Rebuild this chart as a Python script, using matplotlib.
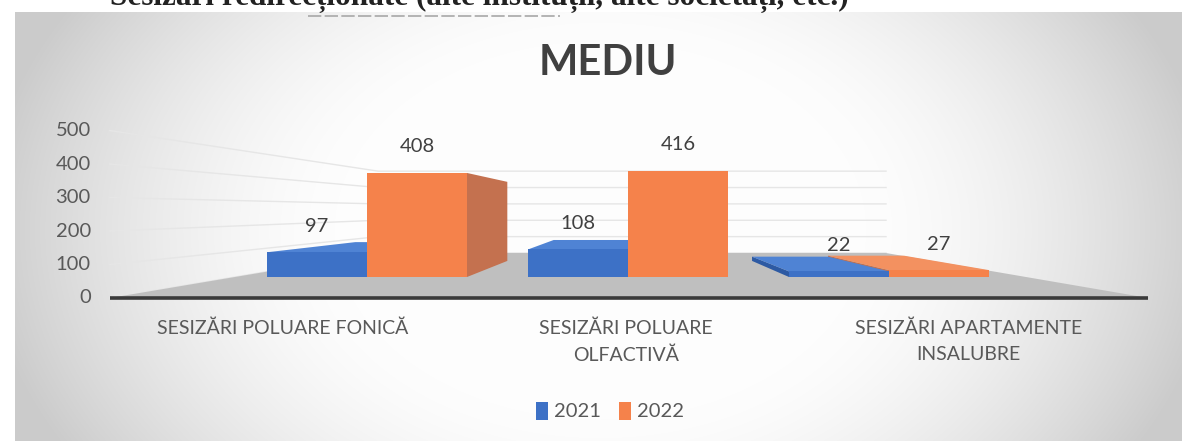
import numpy as np
import matplotlib
matplotlib.use("Agg")
import matplotlib.pyplot as plt
from matplotlib.patches import Polygon, Patch

plt.rcParams['font.family'] = ['Lato', 'DejaVu Sans']

# data
categories = ["SESIZĂRI POLUARE FONICĂ", "SESIZĂRI POLUARE\nOLFACTIVĂ",
              "SESIZĂRI APARTAMENTE\nINSALUBRE"]
series_names = ["2021", "2022"]
values_2021 = [97, 108, 22]
values_2022 = [408, 416, 27]
y_ticks = [0, 100, 200, 300, 400, 500]
title = "MEDIU"
header = "Sesizări redirecționate (alte instituții, alte societăți, etc.)"

W, H = 1182, 441
colors = {"2021": ("#3d71c6", "#4f83d4", "#2d5aa3"),   # front, top, side
          "2022": ("#f5824b", "#f39160", "#c4714f")}

# simple perspective: vanishing point, base line and scale at the bar front
VX, VY = 635.0, 210.0
Y0, K = 277.0, 0.255
S_BACK = 0.76              # bar back face
S_FLOOR_F, S_FLOOR_B = 1.313, 0.642
XL, XR = 235.0, 1026.0     # floor extent (front plane units)
GROUP0, GROUP_STEP, BAR_W = 367.0, 261.0, 100.0


def proj(x, v, s):
    return (VX + (x - VX) * s, VY + (Y0 - K * v - VY) * s)


fig = plt.figure(figsize=(W / 100, H / 100), dpi=100)
ax = fig.add_axes([0, 0, 1, 1])
ax.set_xlim(0, W)
ax.set_ylim(H, 0)
ax.axis('off')

# chart area background (light vignette)
gx, gy = np.meshgrid(np.arange(15, W), np.arange(12, H))
r = np.sqrt(((gx - 600) / 590.0) ** 2 + ((gy - 230) / 420.0) ** 2)
t = np.clip((r - 0.45) / 0.6, 0, 1) ** 1.5
bg = (253 - 50 * t) / 255.0
ax.imshow(np.dstack([bg, bg, bg]), extent=(15, W, H, 12), zorder=0,
          interpolation='bilinear', aspect='auto')

# header line of the document, cut by the top edge as in the scan
ax.text(62, 5, "•", fontsize=22.5, fontweight='bold', family='Liberation Serif',
        va='baseline', color='#222222', zorder=1)
ax.text(110, 5, header, fontsize=22.5, fontweight='bold', family='Liberation Serif',
        va='baseline', color='#222222', zorder=1)
ax.plot([308, 560], [16, 16], color='#a8a8a8', lw=1.2, ls=(0, (8, 2)), zorder=1)

ax.text(608, 63, title, fontsize=30, fontweight='bold', color='#404040',
        ha='center', va='center', zorder=5)

# walls gridlines and floor
for v in y_ticks:
    p1, p2, p3 = proj(XL, v, S_FLOOR_F), proj(XL, v, S_FLOOR_B), proj(XR, v, S_FLOOR_B)
    ax.plot([p1[0], p2[0], p3[0]], [p1[1], p2[1], p3[1]], color='#e6e6e6', lw=1, zorder=1)
    ax.text(p1[0] - 19, p1[1], str(v), ha='right', va='center', fontsize=14.5,
            color='#595959', zorder=5)

floor = [proj(XL, 0, S_FLOOR_F), proj(XR, 0, S_FLOOR_F),
         proj(XR, 0, S_FLOOR_B), proj(XL, 0, S_FLOOR_B)]
ax.add_patch(Polygon(floor, closed=True, fc='#bfbfbf', ec='none', zorder=2))
a0, a1 = proj(XL, 0, S_FLOOR_F), proj(XR, 0, S_FLOOR_F)
ax.plot([a0[0], a1[0]], [a0[1], a1[1]], color='#3a3a3a', lw=2.6,
        solid_capstyle='butt', zorder=3)

# bars
bars = []
for i in range(len(categories)):
    c = GROUP0 + GROUP_STEP * i
    bars.append((c - BAR_W, c, values_2021[i], "2021"))
    bars.append((c, c + BAR_W, values_2022[i], "2022"))
bars.sort(key=lambda b: -abs((b[0] + b[1]) / 2 - VX))

z = 10
for x0, x1, v, name in bars:
    front, top, side = colors[name]
    faces = []
    if x0 > VX:
        faces.append(([proj(x0, 0, 1), proj(x0, v, 1), proj(x0, v, S_BACK),
                       proj(x0, 0, S_BACK)], side))
    if x1 < VX:
        faces.append(([proj(x1, 0, 1), proj(x1, v, 1), proj(x1, v, S_BACK),
                       proj(x1, 0, S_BACK)], side))
    if Y0 - K * v > VY:
        faces.append(([proj(x0, v, 1), proj(x1, v, 1), proj(x1, v, S_BACK),
                       proj(x0, v, S_BACK)], top))
    faces.append(([proj(x0, 0, 1), proj(x1, 0, 1), proj(x1, v, 1),
                   proj(x0, v, 1)], front))
    for pts, col in faces:
        ax.add_patch(Polygon(pts, closed=True, fc=col, ec='none', zorder=z))
    z += 1
    tx, ty = proj((x0 + x1) / 2, v, 1)
    ax.text(tx, ty - 26, str(v), ha='center', va='center', fontsize=14.5,
            color='#404040', zorder=30)

# category labels on the floor front
for i, lab in enumerate(categories):
    lx, _ = proj(GROUP0 + GROUP_STEP * i, 0, S_FLOOR_F)
    ax.text(lx, 319, lab, ha='center', va='top', multialignment='center',
            fontsize=14, color='#595959', linespacing=1.7, zorder=5)

handles = [Patch(fc=colors[n][0], ec='none') for n in series_names]
ax.legend(handles, series_names, loc='center', bbox_to_anchor=(610 / W, 1 - 411 / H),
          frameon=False, ncol=2, handlelength=0.6, handleheight=1.0,
          handletextpad=0.3, columnspacing=0.9, fontsize=14.5, labelcolor='#595959')

fig.savefig("out.png", dpi=100)
